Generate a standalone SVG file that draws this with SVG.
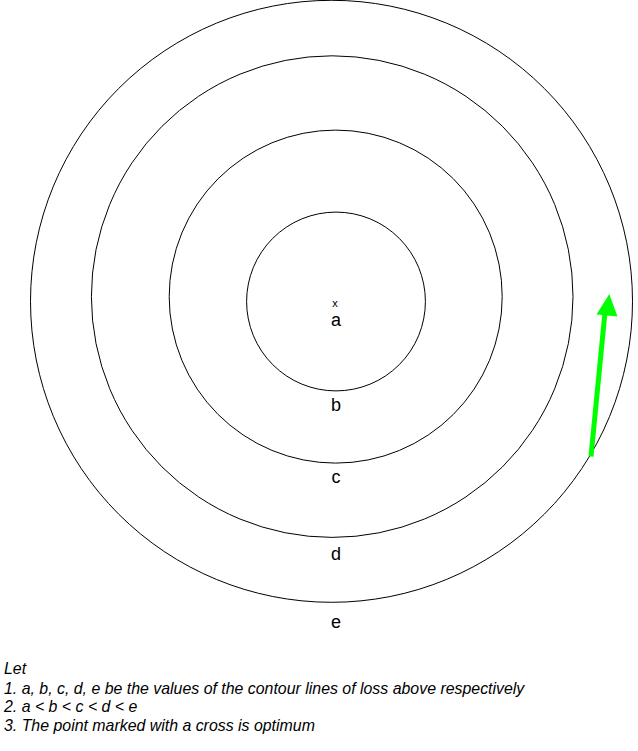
<svg xmlns="http://www.w3.org/2000/svg" width="638" height="751" viewBox="0 0 638 751">
<style>
.contour{fill:none;stroke:#000;stroke-width:1}
.lbl{font-family:"Liberation Sans",Arial,sans-serif;font-size:18px;fill:#000;text-anchor:middle}
.note{font-family:"Liberation Sans",Arial,sans-serif;font-size:15.9px;font-style:italic;fill:#000}
</style>
<rect width="638" height="751" fill="#fff"/>
<g id="contour-e"><circle class="contour" cx="331.5" cy="301.3" r="301"/><text class="lbl" x="336" y="628">e</text></g>
<g id="contour-d"><circle class="contour" cx="332.2" cy="296.6" r="240.8"/><text class="lbl" x="336" y="560">d</text></g>
<g id="contour-c"><circle class="contour" cx="335.7" cy="296.6" r="166.5"/><text class="lbl" x="336" y="483">c</text></g>
<g id="contour-b"><circle class="contour" cx="336" cy="301.5" r="89.4"/><text class="lbl" x="336" y="411">b</text></g>
<g id="optimum"><text class="lbl" x="335" y="306.5" style="font-size:11px">x</text><text class="lbl" x="336" y="326">a</text></g>
<g id="connectors">
<line x1="591" y1="456.5" x2="605" y2="312" stroke="#00ff00" stroke-width="5"/>
<polygon points="609.3,294 596.5,314.5 617.5,316.5" fill="#00ff00"/>
</g>
<g id="notes">
<text class="note" x="4" y="674">Let</text>
<text class="note" x="4" y="694">1. a, b, c, d, e be the values of the contour lines of loss above respectively</text>
<text class="note" x="4" y="712">2. a &lt; b &lt; c &lt; d &lt; e</text>
<text class="note" x="4" y="731">3. The point marked with a cross is optimum</text>
</g>
</svg>
